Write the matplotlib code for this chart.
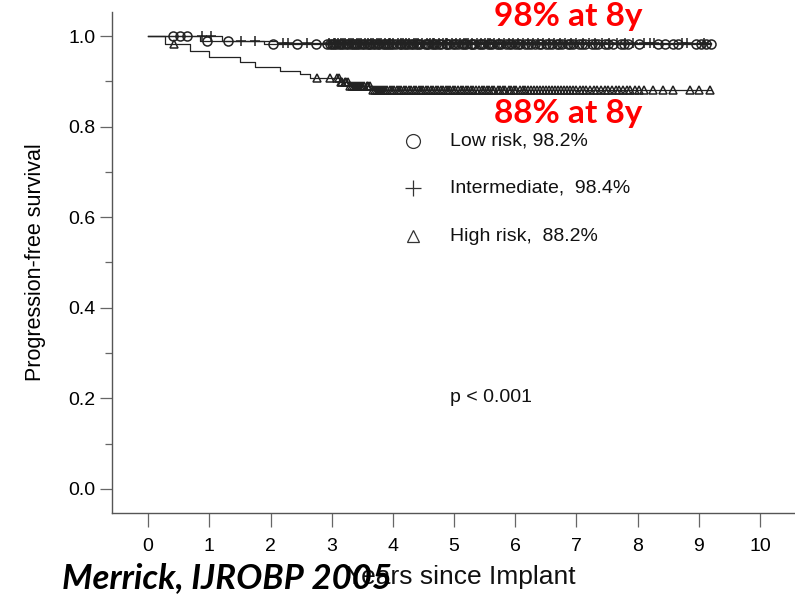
import numpy as np
import matplotlib.pyplot as plt

plt.rcParams['font.family'] = ['Liberation Sans', 'DejaVu Sans']

# Kaplan-Meier step curves (time in years, survival after the step)
low_times = [0.0, 0.85, 1.9]
low_surv = [1.0, 0.99, 0.982]
int_times = [0.0, 1.2, 2.1]
int_surv = [1.0, 0.99, 0.984]
high_times = [0.0, 0.28, 0.69, 1.0, 1.5, 1.75, 2.16, 2.48, 2.65, 3.14, 3.3, 3.66]
high_surv = [1.0, 0.982, 0.967, 0.954, 0.943, 0.932, 0.923, 0.916, 0.907, 0.899, 0.89, 0.88]
end_time = 9.2

# censored observations
low_cens = [0.41, 0.52, 0.63, 0.97, 1.31, 2.04, 2.44, 2.74, 2.93, 2.97, 3.0, 3.04, 3.07,
            3.12, 3.15, 3.19, 3.23, 3.26, 3.31, 3.34, 3.38, 3.42, 3.45, 3.49, 3.52, 3.58,
            3.61, 3.63, 3.67, 3.71, 3.75, 3.78, 3.84, 3.87, 3.9, 3.94, 3.97, 4.01, 4.05,
            4.11, 4.14, 4.18, 4.21, 4.24, 4.3, 4.33, 4.37, 4.41, 4.45, 4.52, 4.55, 4.58,
            4.64, 4.68, 4.71, 4.75, 4.79, 4.86, 4.89, 4.92, 4.99, 5.02, 5.06, 5.13, 5.16,
            5.2, 5.27, 5.3, 5.33, 5.4, 5.44, 5.48, 5.55, 5.58, 5.62, 5.7, 5.73, 5.77,
            5.85, 5.89, 5.93, 6.0, 6.04, 6.08, 6.16, 6.2, 6.25, 6.33, 6.38, 6.42, 6.5,
            6.55, 6.6, 6.68, 6.72, 6.77, 6.86, 6.9, 6.95, 7.04, 7.09, 7.14, 7.25, 7.3,
            7.35, 7.46, 7.52, 7.6, 7.72, 7.78, 7.85, 8.02, 8.33, 8.45, 8.58, 8.66,
            8.95, 9.04, 9.12, 9.2]
int_cens = [0.88, 1.02, 1.52, 1.74, 2.2, 2.28, 2.6, 2.95, 3.03, 3.06, 3.1, 3.16, 3.19,
            3.22, 3.29, 3.32, 3.35, 3.41, 3.44, 3.48, 3.55, 3.6, 3.64, 3.67, 3.74, 3.77,
            3.8, 3.87, 3.93, 3.96, 4.0, 4.08, 4.14, 4.17, 4.21, 4.27, 4.34, 4.38, 4.41,
            4.48, 4.55, 4.61, 4.65, 4.68, 4.75, 4.82, 4.86, 4.89, 4.96, 5.03, 5.1, 5.16,
            5.19, 5.23, 5.3, 5.37, 5.44, 5.51, 5.55, 5.59, 5.66, 5.74, 5.81, 5.89, 5.96,
            6.04, 6.12, 6.2, 6.29, 6.37, 6.46, 6.55, 6.64, 6.73, 6.82, 6.91, 7.0, 7.1,
            7.2, 7.3, 7.41, 7.53, 7.66, 7.8, 7.93, 8.1, 8.2, 8.27, 8.72, 8.81, 9.08]
high_cens = [0.42, 2.76, 2.97, 3.08, 3.12, 3.15, 3.17, 3.21, 3.24, 3.27, 3.3, 3.33, 3.37,
             3.4, 3.43, 3.46, 3.5, 3.53, 3.57, 3.6, 3.63, 3.67, 3.7, 3.74, 3.77, 3.8,
             3.84, 3.87, 3.91, 3.95, 3.99, 4.02, 4.06, 4.1, 4.14, 4.18, 4.22, 4.26, 4.3,
             4.34, 4.38, 4.42, 4.46, 4.5, 4.54, 4.58, 4.62, 4.66, 4.7, 4.74, 4.78, 4.82,
             4.86, 4.9, 4.94, 4.98, 5.02, 5.06, 5.11, 5.15, 5.19, 5.23, 5.27, 5.31, 5.36,
             5.4, 5.45, 5.49, 5.53, 5.57, 5.62, 5.66, 5.71, 5.75, 5.8, 5.84, 5.89, 5.93,
             5.98, 6.02, 6.07, 6.12, 6.16, 6.21, 6.26, 6.31, 6.35, 6.4, 6.45, 6.5, 6.55,
             6.6, 6.65, 6.7, 6.75, 6.8, 6.85, 6.9, 6.95, 7.0, 7.05, 7.1, 7.16, 7.22, 7.28,
             7.34, 7.4, 7.46, 7.52, 7.58, 7.64, 7.7, 7.76, 7.82, 7.88, 7.95, 8.02, 8.1,
             8.25, 8.42, 8.58, 8.85, 9.0, 9.18]

legend_labels = ['Low risk, 98.2%', 'Intermediate,  98.4%', 'High risk,  88.2%']
x_ticks = list(range(0, 11))
y_ticks = [0.0, 0.2, 0.4, 0.6, 0.8, 1.0]
y_minor = [0.1, 0.3, 0.5, 0.7, 0.9]


def level_at(times, surv, t):
    idx = np.searchsorted(times, t, side='right') - 1
    return np.array(surv)[idx]


fig = plt.figure(figsize=(7.95, 5.94), dpi=100)
ax = fig.add_axes([0.1409, 0.1364, 0.859, 0.8434])

lc = '#222222'
groups = [
    (low_times, low_surv, low_cens, 'o', 6.5),
    (int_times, int_surv, int_cens, '+', 7.5),
    (high_times, high_surv, high_cens, '^', 6.0),
]
for times, surv, cens, mk, ms in groups:
    ax.step(times + [end_time], surv + [surv[-1]], where='post', color=lc, lw=0.9)
    ax.plot(cens, level_at(times, surv, cens), linestyle='none', marker=mk,
            markersize=ms, markerfacecolor='none', markeredgecolor=lc,
            markeredgewidth=1.1)

ax.set_xlim(-0.59, 10.57)
ax.set_ylim(-0.053, 1.053)
ax.spines['top'].set_visible(False)
ax.spines['right'].set_visible(False)
for s in ('left', 'bottom'):
    ax.spines[s].set_color('#555555')
    ax.spines[s].set_linewidth(1.0)

ax.set_xticks(x_ticks)
ax.set_yticks(y_ticks)
ax.set_yticks(y_minor, minor=True)
ax.set_yticklabels(['%.1f' % v for v in y_ticks])
ax.tick_params(axis='y', which='major', length=9, width=0.9, color='#666666',
               labelsize=14, pad=3)
ax.tick_params(axis='y', which='minor', length=5, width=0.9, color='#666666')
ax.tick_params(axis='x', which='major', length=10, width=0.9, color='#666666',
               labelsize=14, pad=8)
ax.set_ylabel('Progression-free survival', fontsize=15.5, labelpad=16)

# legend drawn by hand
leg_y = [0.768, 0.664, 0.558]
leg_mk = [('o', 10), ('+', 12), ('^', 8)]
for yy, (mk, ms), lab in zip(leg_y, leg_mk, legend_labels):
    ax.plot([4.33], [yy], linestyle='none', marker=mk, markersize=ms,
            markerfacecolor='none', markeredgecolor='#333333', markeredgewidth=0.9)
    ax.text(4.93, yy, lab, fontsize=14, va='center', ha='left', color='#111111')

ax.text(4.93, 0.203, 'p < 0.001', fontsize=14, va='center', ha='left', color='#111111')

# red annotations
ax.text(6.86, 1.042, '98% at 8y', color='red', fontsize=24, fontweight='bold',
        family='Lato', ha='center', va='center', clip_on=False)
ax.text(6.86, 0.828, '88% at 8y', color='red', fontsize=24, fontweight='bold',
        family='Lato', ha='center', va='center', clip_on=False)

fig.text(461 / 795, 1 - 577 / 594, 'Years since Implant', fontsize=19,
         ha='center', va='center', color='#111111')
fig.text(62 / 795, 1 - 578 / 594, 'Merrick, IJROBP 2005', fontsize=25,
         fontweight='bold', fontstyle='italic', family='Lato', ha='left',
         va='center', color='black')

fig.savefig('out.png', dpi=100)
